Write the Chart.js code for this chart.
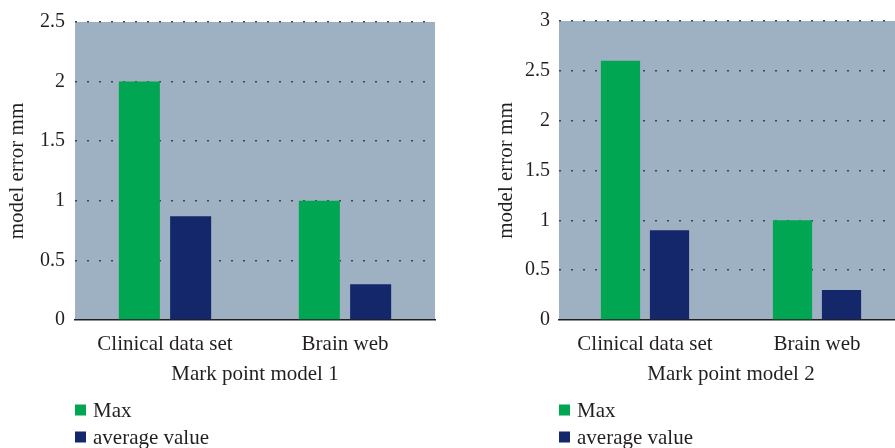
<!DOCTYPE html>
<html>
<head>
<meta charset="utf-8">
<script src="https://cdn.jsdelivr.net/npm/chart.js@4/dist/chart.umd.min.js"></script>
<style>
  html, body { margin: 0; padding: 0; background: #ffffff; }
  #wrap { position: relative; width: 895px; height: 448px; overflow: hidden; }
  .box { position: absolute; top: 0; height: 448px; }
  #b1 { left: 0px; width: 450px; }
  #b2 { left: 490px; width: 420px; }
</style>
</head>
<body>
<div id="wrap">
  <div class="box" id="b1"><canvas id="c1"></canvas></div>
  <div class="box" id="b2"><canvas id="c2"></canvas></div>
</div>
<script>
// ---- data ----
const categories = ['Clinical data set', 'Brain web'];
const seriesLabels = ['Max', 'average value'];
const model1Max = [2.0, 1.0];
const model1Avg = [0.87, 0.30];
const model2Max = [2.6, 1.0];
const model2Avg = [0.90, 0.30];
const xTitles = ['Mark point model 1', 'Mark point model 2'];
const yTitle = 'model error mm';
const yMax1 = 2.5;
const yMax2 = 3;
const yStep = 0.5;

// ---- styles ----
const GREEN = '#00A651';
const NAVY = '#13276A';
const PLOT_BG = '#9EB1C3';
const TEXT = '#231F20';
const FONT = 'Liberation Serif';

const plotBg = {
  id: 'plotBg',
  beforeDraw(chart) {
    const {ctx, chartArea: a} = chart;
    ctx.save();
    ctx.fillStyle = PLOT_BG;
    ctx.fillRect(a.left, a.top, a.right - a.left, a.bottom - a.top);
    ctx.restore();
  }
};

const vLegend = {
  id: 'vLegend',
  afterDraw(chart) {
    const {ctx, chartArea: a} = chart;
    ctx.save();
    ctx.font = '21px "' + FONT + '", serif';
    ctx.textBaseline = 'middle';
    ctx.textAlign = 'left';
    chart.data.datasets.forEach((ds, i) => {
      const y = chart.height - 38 + 27 * i;
      ctx.fillStyle = ds.backgroundColor;
      ctx.fillRect(a.left, y - 5.5, 11, 11);
      ctx.fillStyle = TEXT;
      ctx.fillText(ds.label, a.left + 18, y + 1);
    });
    ctx.restore();
  }
};

function makeChart(id, maxVals, avgVals, yMax, xTitle, axisW, titlePad, tickPad, padRight) {
  return new Chart(document.getElementById(id), {
    type: 'bar',
    data: {
      labels: categories,
      datasets: [
        { label: seriesLabels[0], data: maxVals, backgroundColor: GREEN, borderWidth: 0 },
        { label: seriesLabels[1], data: avgVals, backgroundColor: NAVY, borderWidth: 0 }
      ]
    },
    options: {
      responsive: true,
      maintainAspectRatio: false,
      animation: false,
      events: [],
      datasets: { bar: { categoryPercentage: 0.57, barPercentage: 0.8 } },
      layout: { padding: { top: 21, right: padRight, bottom: 58, left: 0 } },
      plugins: { legend: { display: false }, tooltip: { enabled: false } },
      scales: {
        x: {
          grid: { display: false, drawTicks: false },
          border: { display: true, color: TEXT, width: 1.5 },
          ticks: { color: TEXT, font: { family: FONT, size: 21 }, padding: 12, maxRotation: 0 },
          title: { display: true, text: xTitle, color: TEXT, font: { family: FONT, size: 21 }, padding: { top: 0, bottom: 3 } },
          afterFit(s) { s.height = 70; }
        },
        y: {
          min: 0, max: yMax,
          ticks: { stepSize: yStep, color: TEXT, font: { family: FONT, size: 20 }, padding: tickPad,
                   callback: (v) => String(v) },
          grid: {
            drawTicks: false,
            color: (c) => c.tick && c.tick.value === 0 ? 'rgba(0,0,0,0)' : '#3F4449',
            lineWidth: 1.6
          },
          border: { display: false, dash: [2, 10] },
          title: { display: true, text: yTitle, color: TEXT, font: { family: FONT, size: 21 }, padding: { top: titlePad, bottom: 0 } },
          afterFit(s) { s.width = axisW; }
        }
      }
    },
    plugins: [plotBg, vLegend]
  });
}

function build() {
  makeChart('c1', model1Max, model1Avg, yMax1, xTitles[0], 75, 5, 10, 15);
  makeChart('c2', model2Max, model2Avg, yMax2, xTitles[1], 69, 4, 9, 7);
}
if (document.fonts && document.fonts.load) {
  Promise.all([document.fonts.load('20px "Liberation Serif"'), document.fonts.load('21px "Liberation Serif"')])
    .then(build, build);
} else {
  build();
}
</script>
</body>
</html>
